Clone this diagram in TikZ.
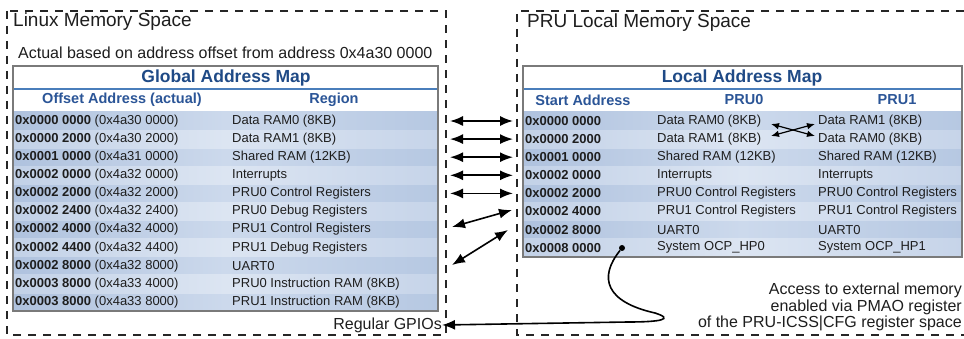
\documentclass[tikz,border=0pt]{standalone}
\usepackage{fontspec}
\setmainfont{Liberation Sans}
\usetikzlibrary{arrows.meta}
\definecolor{titleblue}{HTML}{1F4A86}
\definecolor{headblue}{HTML}{2B5597}
\definecolor{lineblue}{HTML}{4A7EBB}
\definecolor{rowAl}{HTML}{AFC2DE}
\definecolor{rowAm}{HTML}{CCD9EC}
\definecolor{rowAr}{HTML}{B6C8E2}
\definecolor{rowBl}{HTML}{C2D1E7}
\definecolor{rowBm}{HTML}{DCE5F2}
\definecolor{rowBr}{HTML}{C6D4E9}
\definecolor{framegray}{HTML}{7A7A7A}
\definecolor{ink}{HTML}{1E1E1E}
\begin{document}
\begin{tikzpicture}[x=1pt,y=-1pt,
  dashbox/.style={draw=black!85, line width=2pt, dash pattern=on 8pt off 7pt},
  bigtitle/.style={font=\fontsize{19}{22}\selectfont, inner sep=0pt, anchor=west, text=ink},
  note/.style={font=\fontsize{16}{16.5}\selectfont, inner sep=0pt, text=ink},
  tabtitle/.style={font=\fontsize{17.5}{20}\selectfont\bfseries, text=titleblue, inner sep=0pt},
  colhead/.style={font=\fontsize{14.5}{17}\selectfont\bfseries, text=headblue, inner sep=0pt},
  cell/.style={font=\fontsize{13}{15}\selectfont, anchor=west, inner sep=0pt, text=ink},
  rowA/.style={left color=rowAl, right color=rowAr, middle color=rowAm, draw=none},
  rowB/.style={left color=rowBl, right color=rowBr, middle color=rowBm, draw=none},
  tabframe/.style={draw=framegray, line width=1.2pt},
  blueline/.style={draw=lineblue, line width=2pt},
  dbl/.style={{Latex[length=13pt,width=10pt]}-{Latex[length=13pt,width=10pt]}, line width=1.6pt},
  sgl/.style={-{Latex[length=13pt,width=10pt]}, line width=1.6pt},
  xdbl/.style={{Latex[length=8pt,width=6.5pt]}-{Latex[length=8pt,width=6.5pt]}, line width=1.2pt},
]
\useasboundingbox (0,0) rectangle (964,339);
\fill[white] (0,0) rectangle (964,339);

% dashed memory-space boxes
\draw[dashbox] (7,11) rectangle (446,335);
\draw[dashbox] (964,11) -- (517,11) -- (517,335) -- (964,335);

\node[bigtitle] (linuxT) at (13,22) {Linux Memory Space};
\node[bigtitle] (pruT) at (527,23) {PRU Local Memory Space};
\node[note, anchor=west] (actual) at (18,53) {Actual based on address offset from address 0x4a30 0000};

% ---------- Global address map ----------
\fill[white] (13,66) rectangle (438,112);
\foreach \i in {0,2,4,6,8,10} \shade[rowA] (13,{112+18.1*\i}) rectangle (438,{112+18.1*(\i+1)});
\foreach \i in {1,3,5,7,9} \shade[rowB] (13,{112+18.1*\i}) rectangle (438,{112+18.1*(\i+1)});
\draw[blueline] (13,89) -- (438,89);
\draw[tabframe] (13,66) rectangle (438,311);
\node[tabtitle] (gtitle) at (226,78) {Global Address Map};
\node[colhead] (gh1) at (122,100) {Offset Address (actual)};
\node[colhead] (gh2) at (334,100) {Region};
\foreach \a/\b/\c [count=\j from 0] in {
  0x0000 0000/0x4a30 0000/Data RAM0 (8KB),
  0x0000 2000/0x4a30 2000/Data RAM1 (8KB),
  0x0001 0000/0x4a31 0000/Shared RAM (12KB),
  0x0002 0000/0x4a32 0000/Interrupts,
  0x0002 2000/0x4a32 2000/PRU0 Control Registers,
  0x0002 2400/0x4a32 2400/PRU0 Debug Registers,
  0x0002 4000/0x4a32 4000/PRU1 Control Registers,
  0x0002 4400/0x4a32 4400/PRU1 Debug Registers,
  0x0002 8000/0x4a32 8000/UART0,
  0x0003 8000/0x4a33 4000/PRU0 Instruction RAM (8KB),
  0x0003 8000/0x4a33 8000/PRU1 Instruction RAM (8KB)} {
  \node[cell] (ga\j) at (15,{121+18.1*\j}) {\textbf{\a} (\b)};
  \node[cell] (gr\j) at (232,{121+18.1*\j}) {\c};
  \coordinate (gx\j) at (450,{121+18.1*\j});
}

% ---------- Local address map ----------
\fill[white] (523,66) rectangle (962,112);
\foreach \i in {0,2,4,6} \shade[rowA] (523,{112+18.1*\i}) rectangle (962,{112+18.1*(\i+1)});
\foreach \i in {1,3,5,7} \shade[rowB] (523,{112+18.1*\i}) rectangle (962,{112+18.1*(\i+1)});
\draw[blueline] (523,89) -- (962,89);
\draw[tabframe] (523,66) rectangle (962,257);
\node[tabtitle] (ltitle) at (742,78) {Local Address Map};
\node[colhead] (lh1) at (583,100) {Start Address};
\node[colhead] (lh2) at (744,100) {PRU0};
\node[colhead] (lh3) at (897,100) {PRU1};
\foreach \a/\b/\c [count=\j from 0] in {
  0x0000 0000/Data RAM0 (8KB)/Data RAM1 (8KB),
  0x0000 2000/Data RAM1 (8KB)/Data RAM0 (8KB),
  0x0001 0000/Shared RAM (12KB)/Shared RAM (12KB),
  0x0002 0000/Interrupts/Interrupts,
  0x0002 2000/PRU0 Control Registers/PRU0 Control Registers,
  0x0002 4000/PRU1 Control Registers/PRU1 Control Registers,
  0x0002 8000/UART0/UART0,
  0x0008 0000/System OCP\_HP0/System OCP\_HP1} {
  \node[cell] (la\j) at (525,{121+18.1*\j}) {\textbf{\a}};
  \node[cell] (lp\j) at (657,{121+18.1*\j}) {\b};
  \node[cell] (lq\j) at (818,{121+18.1*\j}) {\c};
  \coordinate (lx\j) at (513,{121+18.1*\j});
}

% arrows between maps
\foreach \k in {0,...,4} \draw[dbl] (gx\k) -- (lx\k);
\coordinate (g6e) at (452,227);
\coordinate (l5w) at (512,210);
\draw[dbl] (g6e) -- (l5w);
\coordinate (g8e) at (452,265);
\coordinate (l6w) at (508,230);
\draw[dbl] (g8e) -- (l6w);

% crossing arrows between PRU0 / PRU1 data RAMs
\coordinate (c0a) at (771,124);
\coordinate (c0b) at (815,136);
\coordinate (c1a) at (771,136);
\coordinate (c1b) at (815,124);
\draw[xdbl] (c0a) -- (c0b);
\draw[xdbl] (c1a) -- (c1b);

% external memory connector
\node[circle, fill=black, inner sep=0pt, minimum size=6pt] (dot) at (622,248) {};
\node[note, anchor=east] (gpio) at (442,325) {Regular GPIOs};
\coordinate (k1) at (655,313);
\coordinate (k2) at (628,322);
\draw[sgl] (dot) .. controls (598,278) and (606,302) .. (k1)
  .. controls (674,319) and (662,322) .. (k2) -- (gpio.east);

\node[note, anchor=east, align=right] (access) at (962,307)
  {Access to external memory\\enabled via PMAO register\\of the PRU-ICSS|CFG register space};
\end{tikzpicture}
\end{document}
